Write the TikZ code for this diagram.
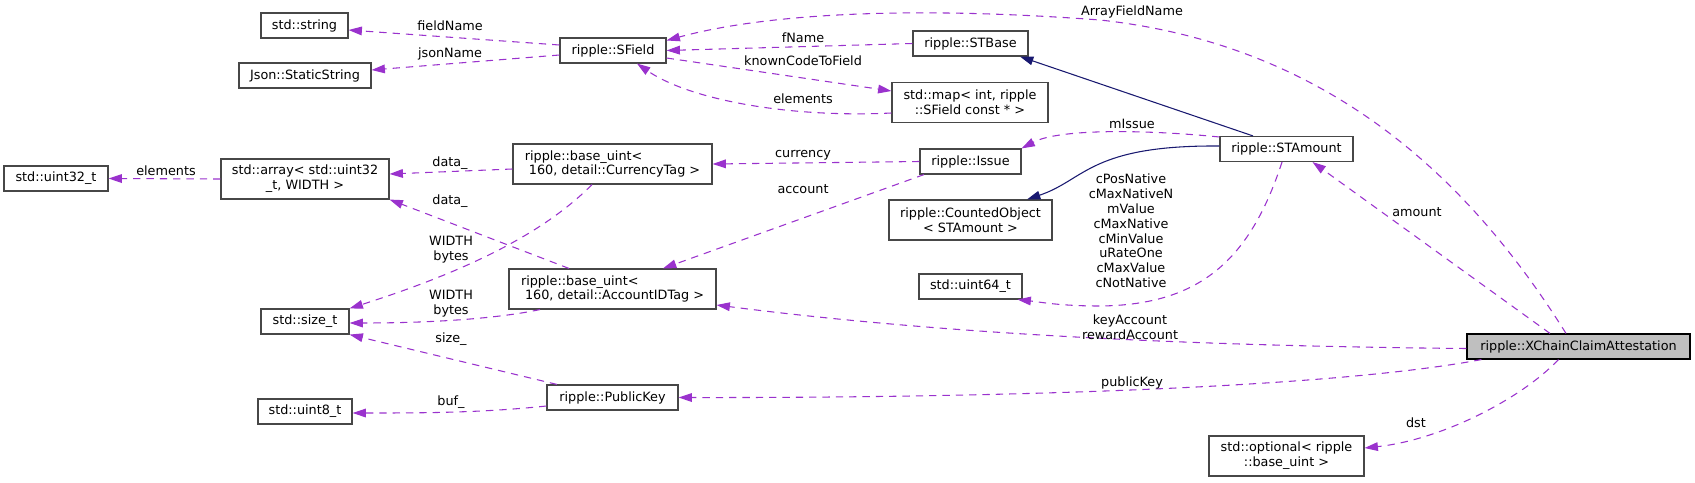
\documentclass[tikz,border=0pt]{standalone}
\usepackage{fontspec}
\setmainfont{DejaVu Sans}
\usetikzlibrary{arrows.meta,calc}
\definecolor{edgep}{HTML}{9A32CD}
\definecolor{edgeb}{HTML}{191970}
\definecolor{selfill}{HTML}{BFBFBF}
\newlength\px \setlength\px{0.75pt}
\begin{document}
\begin{tikzpicture}[x=0.75pt,y=-0.75pt,
  font=\fontsize{9.6}{11.1}\selectfont,
  cls/.style={draw=black!72, line width=0.85pt, fill=white, inner sep=0pt, minimum height=25\px, align=center},
  cls2/.style={cls, minimum height=40\px},
  mem/.style={draw=edgep, line width=0.8pt, dash pattern=on 5.5pt off 4.5pt, -{Triangle[length=10pt,width=6.5pt,fill=edgep]}},
  inh/.style={draw=edgeb, line width=0.8pt, -{Triangle[length=10pt,width=6.5pt,fill=edgeb]}},
  lbl/.style={inner sep=0pt, align=center},
]
\useasboundingbox (0,0) rectangle (1695,482);

% nodes
\node[cls, minimum width=87\px] (string) at (304.5,25.5) {std::string};
\node[cls, minimum width=132\px] (json) at (305,75.5) {Json::StaticString};
\node[cls, minimum width=104\px] (u32) at (56,178.5) {std::uint32\_t};
\node[cls2, minimum width=168\px] (arr) at (305,179) {std::array< std::uint32\\\_t, WIDTH >};
\node[cls, minimum width=106\px] (sfield) at (613,50.5) {ripple::SField};
\node[cls, minimum width=115\px] (stbase) at (970.5,43.5) {ripple::STBase};
\node[cls2, minimum width=156\px] (map) at (970,102.5) {std::map< int, ripple\\::SField const * >};
\node[cls2, minimum width=199\px, align=left] (cur) at (612.5,164) {ripple::base\_uint<\\\mbox{ }160, detail::CurrencyTag >};
\node[cls, minimum width=101\px] (issue) at (970.5,161.5) {ripple::Issue};
\node[cls, minimum width=133\px] (stamount) at (1286.5,149) {ripple::STAmount};
\node[cls2, minimum width=163\px] (counted) at (970.5,220) {ripple::CountedObject\\< STAmount >};
\node[cls, minimum width=88\px] (sizet) at (305,321.5) {std::size\_t};
\node[cls2, minimum width=207\px, align=left] (acc) at (612.5,289) {ripple::base\_uint<\\\mbox{ }160, detail::AccountIDTag >};
\node[cls, minimum width=103\px] (u64) at (970.5,286.5) {std::uint64\_t};
\node[cls, minimum width=131\px] (pubkey) at (612.5,397.5) {ripple::PublicKey};
\node[cls, minimum width=94\px] (u8) at (305,411.5) {std::uint8\_t};
\node[cls, minimum width=223\px, fill=selfill, draw=black] (xchain) at (1578.5,346.5) {ripple::XChainClaimAttestation};
\node[cls2, minimum width=155\px] (opt) at (1286.5,456) {std::optional< ripple\\::base\_uint >};

% member edges
\draw[mem] ($(sfield.west)+(0,-5.5)$) -- ($(string.east)+(0,4.5)$);
\draw[mem] ($(sfield.west)+(0,4.5)$) -- ($(json.east)+(0,-5.5)$);
\draw[mem] (stbase.west) -- (sfield.east);
\draw[mem] ($(xchain.north)+(-12.5,0)$) .. controls (1470,180) and (1330,45) .. (1100,20) .. controls (900,5) and (760,15) .. ($(sfield.east)+(0,-10)$);
\draw[mem] ($(sfield.east)+(0,7.5)$) -- ($(map.west)+(0,-11.5)$);
\draw[mem] ($(map.west)+(0,10.5)$) .. controls (790,118) and (690,100) .. ($(sfield.south)+(24,0)$);
\draw[mem] ($(stamount.west)+(0,-12)$) .. controls (1150,130) and (1060,128) .. (issue.north east);
\draw[mem] (issue.west) -- (cur.east);
\draw[mem] ($(issue.south)+(-46.5,0)$) -- ($(acc.north)+(50.5,0)$);
\draw[mem] ($(cur.west)+(0,5)$) -- ($(arr.east)+(0,-5)$);
\draw[mem] ($(acc.north)+(-43.5,0)$) -- (arr.south east);
\draw[mem] (arr.west) -- (u32.east);
\draw[mem] ($(cur.south)+(-20.5,0)$) .. controls (545,232) and (470,270) .. (sizet.north east);
\draw[mem] ($(acc.south)+(-72.5,0)$) .. controls (490,320) and (420,323) .. ($(sizet.east)+(0,1.5)$);
\draw[mem] ($(pubkey.north)+(-55.5,0)$) -- (sizet.south east);
\draw[mem] ($(pubkey.west)+(0,8.5)$) .. controls (480,413) and (420,413) .. ($(u8.east)+(0,1.5)$);
\draw[mem] ($(stamount.south)+(-4.5,0)$) .. controls (1250,260) and (1200,305) .. (1100,306) .. controls (1060,306) and (1040,302) .. ($(u64.south east)+(-5,0)$);
\draw[mem] ($(xchain.north)+(-28.5,0)$) -- ($(stamount.south)+(26,0)$);
\draw[mem] ($(xchain.west)+(0,2)$) .. controls (1200,346) and (950,335) .. ($(acc.east)+(0,16)$);
\draw[mem] ($(xchain.south west)+(15,0)$) .. controls (1330,388) and (1000,398) .. (pubkey.east);
\draw[mem] ($(xchain.south)+(-20,0)$) .. controls (1520,400) and (1440,440) .. ($(opt.east)+(0,-8)$);

% inheritance edges
\draw[inh] ($(stamount.north)+(-33.5,0)$) -- ($(stbase.south)+(49.5,0)$);
\draw[inh] ($(stamount.west)+(0,-3)$) .. controls (1090,145) and (1085,180) .. ($(counted.north)+(56.5,0)$);

% labels
\node[lbl] (l1) at (450,26) {fieldName};
\node[lbl] (l2) at (450,54) {jsonName};
\node[lbl] (l3) at (803,38) {fName};
\node[lbl] (l4) at (1132,12) {ArrayFieldName};
\node[lbl] (l5) at (803,61) {knownCodeToField};
\node[lbl] (l6) at (803,99) {elements};
\node[lbl] (l7) at (1132,124) {mIssue};
\node[lbl] (l8) at (803,155) {currency};
\node[lbl] (l9) at (803,189) {account};
\node[lbl] (l10) at (450,163) {data\_};
\node[lbl] (l11) at (450,201) {data\_};
\node[lbl] (l12) at (166,171) {elements};
\node[lbl] (l13) at (451,250) {WIDTH\\bytes};
\node[lbl] (l14) at (451,304) {WIDTH\\bytes};
\node[lbl] (l15) at (451,339) {size\_};
\node[lbl] (l16) at (451,402) {buf\_};
\node[lbl] (l17) at (1131,231) {cPosNative\\cMaxNativeN\\mValue\\cMaxNative\\cMinValue\\uRateOne\\cMaxValue\\cNotNative};
\node[lbl] (l18) at (1417,212) {amount};
\node[lbl] (l19) at (1130,327) {keyAccount\\rewardAccount};
\node[lbl] (l20) at (1132,383) {publicKey};
\node[lbl] (l21) at (1416,423) {dst};
\end{tikzpicture}
\end{document}
